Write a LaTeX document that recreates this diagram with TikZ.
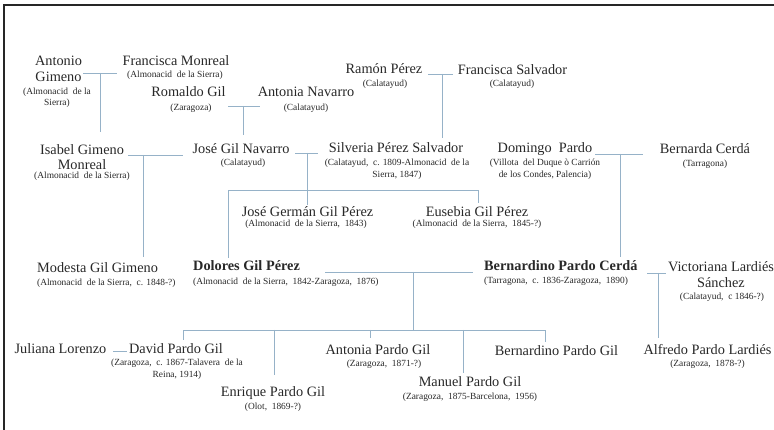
\documentclass[tikz,border=0pt]{standalone}
\usepackage{fontspec}
\setmainfont{Liberation Serif}
\definecolor{linec}{RGB}{150,178,200}
\definecolor{txt}{RGB}{40,40,40}
\newcommand{\dsp}{\ \ }
\begin{document}
\begin{tikzpicture}[x=1pt,y=-1pt,
  pname/.style={font=\fontsize{14.3}{16}\selectfont, inner sep=0pt, align=center, text=txt},
  bname/.style={pname, font=\fontsize{14.3}{16}\selectfont\bfseries},
  sub/.style={font=\fontsize{9.4}{12}\selectfont, inner sep=0pt, align=center, text=txt},
  one/.style={text height=10pt, text depth=3pt},
  ones/.style={text height=6.5pt, text depth=2pt},
  link/.style={draw=linec, line width=0.8pt}]
\useasboundingbox (0,0) rectangle (774,430);
\fill[white] (0,0) rectangle (774,430);
\draw[line width=1.6pt, black!85] (4,431) -- (4,5.2) -- (775,5.2);

% generation 1
\node[pname] (antonio) at (58.5,69) {Antonio\\Gimeno};
\node[sub, font=\fontsize{9.4}{11}\selectfont] (antonio-s) at (57,98) {(Almonacid\dsp de la\\Sierra)};
\node[pname,one] (franciscam) at (176,62) {Francisca Monreal};
\node[sub,ones] (franciscam-s) at (175,75) {(Almonacid\dsp de la Sierra)};
\node[pname,one] (romaldo) at (188.5,93) {Romaldo Gil};
\node[sub,ones] (romaldo-s) at (191,108) {(Zaragoza)};
\node[pname,one] (antonian) at (306,93) {Antonia Navarro};
\node[sub,ones] (antonian-s) at (306,108) {(Calatayud)};
\node[pname,one] (ramon) at (384,70) {Ramón Pérez};
\node[sub,ones] (ramon-s) at (385,84) {(Calatayud)};
\node[pname,one] (franciscas) at (512.5,71) {Francisca Salvador};
\node[sub,ones] (franciscas-s) at (512,84) {(Calatayud)};

% generation 2
\node[pname, font=\fontsize{14.3}{14.5}\selectfont] (isabel) at (82,157) {Isabel Gimeno\\Monreal};
\node[sub,ones] (isabel-s) at (82,176) {(Almonacid\dsp de la Sierra)};
\node[pname,one] (jose) at (241,150) {José Gil Navarro};
\node[sub,ones] (jose-s) at (243,163) {(Calatayud)};
\node[pname,one] (silveria) at (396,149) {Silveria\ Pérez Salvador};
\node[sub] (silveria-s) at (397,169) {(Calatayud,\dsp c. 1809-Almonacid\dsp de la\\Sierra, 1847)};
\node[pname,one] (domingo) at (545,149) {Domingo\ \ Pardo};
\node[sub] (domingo-s) at (545,169.5) {(Villota\dsp del Duque ò Carrión\\de los Condes, Palencia)};
\node[pname,one] (bernarda) at (705,150) {Bernarda Cerdá};
\node[sub,ones] (bernarda-s) at (705,164) {(Tarragona)};

% generation 3
\node[pname,one] (josegerman) at (307.5,213) {José Germán Gil Pérez};
\node[sub,ones] (josegerman-s) at (306,224) {(Almonacid\dsp de la Sierra,\dsp 1843)};
\node[pname,one] (eusebia) at (477,213) {Eusebia Gil Pérez};
\node[sub,ones] (eusebia-s) at (477,224) {(Almonacid\dsp de la Sierra,\dsp 1845-?)};
\node[pname,one,anchor=west] (modesta) at (37,269) {Modesta Gil Gimeno};
\node[sub,ones,anchor=west] (modesta-s) at (37,283) {(Almonacid\dsp de la Sierra,\dsp c. 1848-?)};
\node[bname,one,anchor=west] (dolores) at (193,267) {Dolores Gil Pérez};
\node[sub,ones,anchor=west] (dolores-s) at (193,282) {(Almonacid\dsp de la Sierra,\dsp 1842-Zaragoza,\dsp 1876)};
\node[bname,one,anchor=west] (bernardino) at (484,267) {Bernardino Pardo Cerdá};
\node[sub,ones,anchor=west] (bernardino-s) at (484,281) {(Tarragona,\dsp c. 1836-Zaragoza,\dsp 1890)};
\node[pname] (victoriana) at (721,275) {Victoriana Lardiés\\Sánchez};
\node[sub,ones] (victoriana-s) at (722,297) {(Calatayud,\dsp c 1846-?)};

% generation 4
\node[pname,one] (juliana) at (60.5,350) {Juliana Lorenzo};
\node[pname,one] (david) at (176,350) {David Pardo Gil};
\node[sub] (david-s) at (177,369) {(Zaragoza,\dsp c. 1867-Talavera\dsp de la\\Reina, 1914)};
\node[pname,one] (enrique) at (273,393) {Enrique Pardo Gil};
\node[sub,ones] (enrique-s) at (273,407) {(Olot,\dsp 1869-?)};
\node[pname,one] (antoniap) at (378,351) {Antonia Pardo Gil};
\node[sub,ones] (antoniap-s) at (384,364) {(Zaragoza,\dsp 1871-?)};
\node[pname,one] (manuel) at (470,383) {Manuel Pardo Gil};
\node[sub,ones] (manuel-s) at (470,397) {(Zaragoza,\dsp 1875-Barcelona,\dsp 1956)};
\node[pname,one] (bernardinop) at (556.5,352) {Bernardino Pardo Gil};
\node[pname,one] (alfredo) at (707.5,351) {Alfredo Pardo Lardiés};
\node[sub,ones] (alfredo-s) at (707.5,364) {(Zaragoza,\dsp 1878-?)};

% junction coordinates
\coordinate (m1a) at (83,73);   \coordinate (m1b) at (117,73);  \coordinate (m1) at (100,73);
\coordinate (m2a) at (228,106); \coordinate (m2b) at (260,106); \coordinate (m2) at (243,106);
\coordinate (m3a) at (428,74);  \coordinate (m3b) at (453,74);  \coordinate (m3) at (442,74);
\coordinate (m4a) at (128,155); \coordinate (m4b) at (183,155); \coordinate (m4) at (143,155);
\coordinate (m5a) at (295,153); \coordinate (m5b) at (318,153); \coordinate (m5) at (307,153);
\coordinate (m6a) at (595,154); \coordinate (m6b) at (643,154); \coordinate (m6) at (620,154);
\coordinate (m7a) at (325,272); \coordinate (m7b) at (473,272); \coordinate (m7) at (413,272);
\coordinate (m8a) at (647,273); \coordinate (m8b) at (666,273); \coordinate (m8) at (658,273);
\coordinate (m9a) at (113,351); \coordinate (m9b) at (127,351);
\coordinate (s5) at (307,190);
\coordinate (s7) at (413,330);

% couple lines
\draw[link] (m1a) -- (m1b);
\draw[link] (m2a) -- (m2b);
\draw[link] (m3a) -- (m3b);
\draw[link] (m4a) -- (m4b);
\draw[link] (m5a) -- (m5b);
\draw[link] (m6a) -- (m6b);
\draw[link] (m7a) -- (m7b);
\draw[link] (m8a) -- (m8b);
\draw[link] (m9a) -- (m9b);

% descent lines
\draw[link] (m1) -- (100,132);
\draw[link] (m2) -- (243,135);
\draw[link] (m3) -- (442,138);
\draw[link] (m4) -- (143,257);
\draw[link] (m5) -- (307,205);
\draw[link] (228,258) -- (228,190) -- (478,190) -- (478,203);
\draw[link] (m6) -- (620,257);
\draw[link] (m7) -- (s7);
\draw[link] (183,340) -- (183,330) -- (545,330) -- (545,342);
\draw[link] (274,330) -- (274,375);
\draw[link] (370,330) -- (370,338);
\draw[link] (463,330) -- (463,373);
\draw[link] (m8) -- (658,338);
\end{tikzpicture}
\end{document}
